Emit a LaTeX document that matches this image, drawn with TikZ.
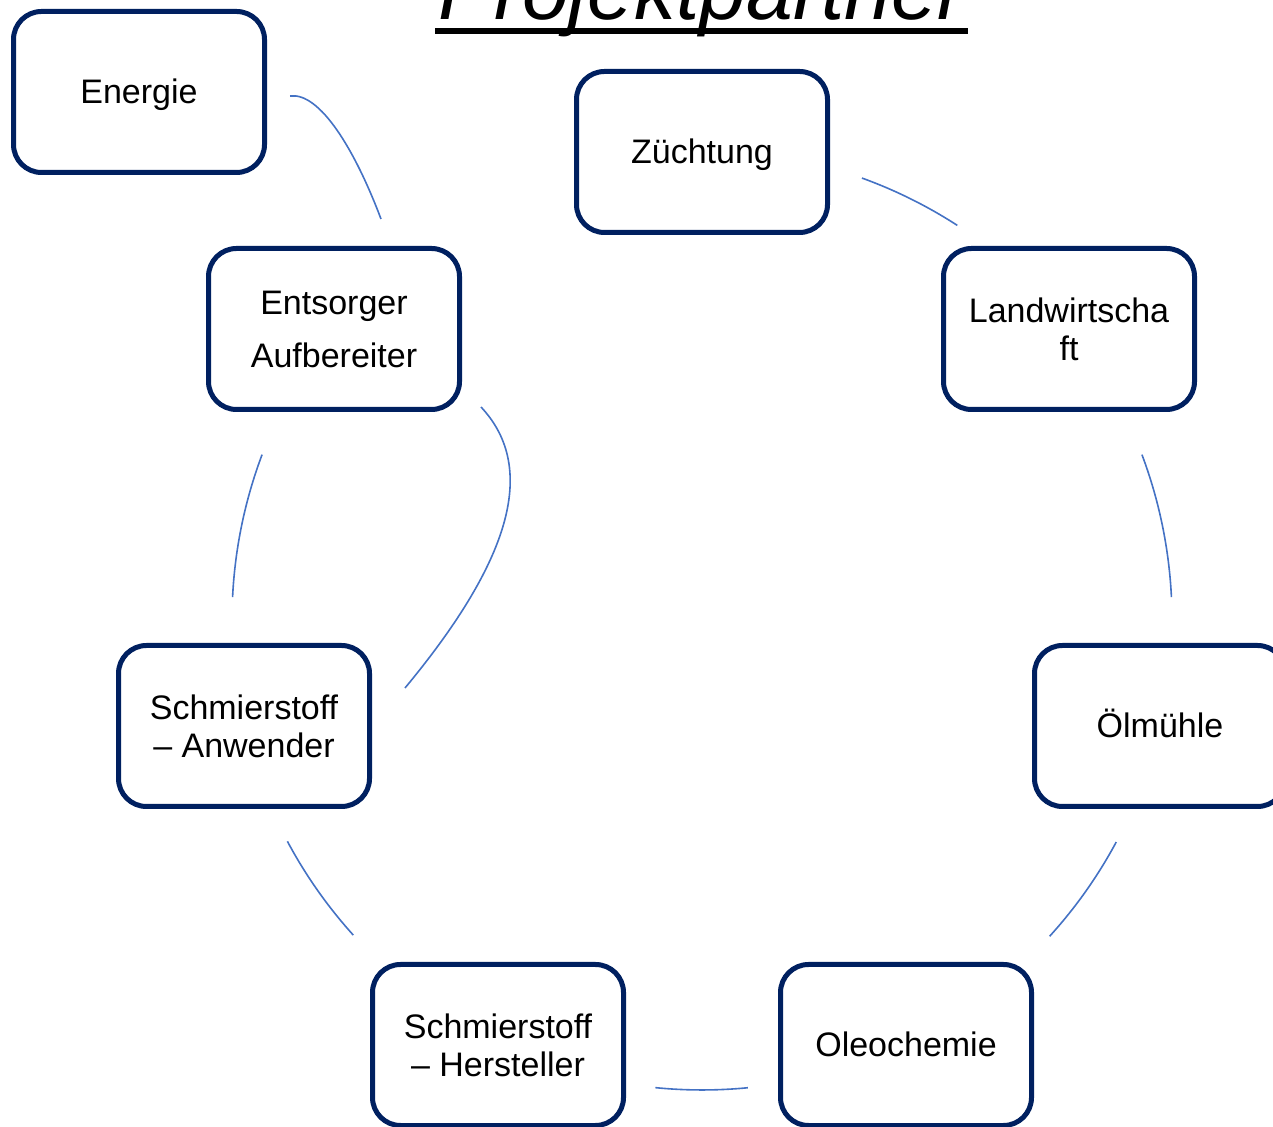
\documentclass[tikz,border=0pt]{standalone}
\usepackage{fontspec}
\setmainfont{Liberation Sans}
\usetikzlibrary{calc}
\definecolor{boxnavy}{HTML}{002060}
\definecolor{connblue}{HTML}{4472C4}
\tikzset{
  partner/.style={draw=boxnavy, line width=5pt, rounded corners=28pt, fill=white,
    minimum width=251pt, minimum height=161pt, inner sep=0pt, align=center,
    font=\fontsize{34}{38}\selectfont},
  oneline/.style={text height=30.8pt, text depth=7.2pt},
  conn/.style={draw=connblue, line width=1.6pt}
}
\begin{document}
\begin{tikzpicture}[x=1pt,y=1pt]
\useasboundingbox (0,0) rectangle (1273,1126);
\clip (0,0) rectangle (1273,1126);
% title
\node[anchor=base, inner sep=0pt, font=\fontsize{84}{84}\selectfont\itshape] (title) at (702,1106) {Projektpartner};
\fill (435,1092) rectangle (968,1098);
% boxes
\node[partner, oneline] (energie) at (139,1034) {Energie};
\node[partner, oneline] (zuecht) at (702,974) {Züchtung};
\node[partner] (landw) at (1069,797) {Landwirtscha\\ft};
\node[partner, oneline] (oelm) at (1160,400) {Ölmühle};
\node[partner, oneline] (oleo) at (906,81) {Oleochemie};
\node[partner] (herst) at (498,81) {Schmierstoff\\– Hersteller};
\node[partner] (anw) at (244,400) {Schmierstoff\\– Anwender};
\node[partner, font=\fontsize{34}{53}\selectfont] (ents) at (334,797) {Entsorger\\Aufbereiter};
% circle arcs
\coordinate (ctr) at (702,506);
\coordinate (a1) at ($(ctr)+(70.1:470)$);
\coordinate (a2) at ($(ctr)+(20.6:470)$);
\coordinate (a3) at ($(ctr)+(-28.2:470)$);
\coordinate (a4) at ($(ctr)+(-84.4:470)$);
\coordinate (a5) at ($(ctr)+(-137.9:470)$);
\coordinate (a6) at ($(ctr)+(177.2:470)$);
\draw[conn] (a1) arc[start angle=70.1, end angle=57.1, radius=470];
\draw[conn] (a2) arc[start angle=20.6, end angle=2.8, radius=470];
\draw[conn] (a3) arc[start angle=-28.2, end angle=-42.3, radius=470];
\draw[conn] (a4) arc[start angle=-84.4, end angle=-95.7, radius=470];
\draw[conn] (a5) arc[start angle=-137.9, end angle=-151.9, radius=470];
\draw[conn] (a6) arc[start angle=177.2, end angle=159.4, radius=470];
% other curves
\coordinate (e1) at (290,1030);
\coordinate (e2) at (381,907);
\draw[conn] (e1) .. controls (320,1034) and (355,976) .. (e2);
\coordinate (s1) at (481,719);
\coordinate (s2) at (405,438);
\draw[conn] (s1) .. controls (540,656) and (507,561) .. (s2);
\end{tikzpicture}
\end{document}
